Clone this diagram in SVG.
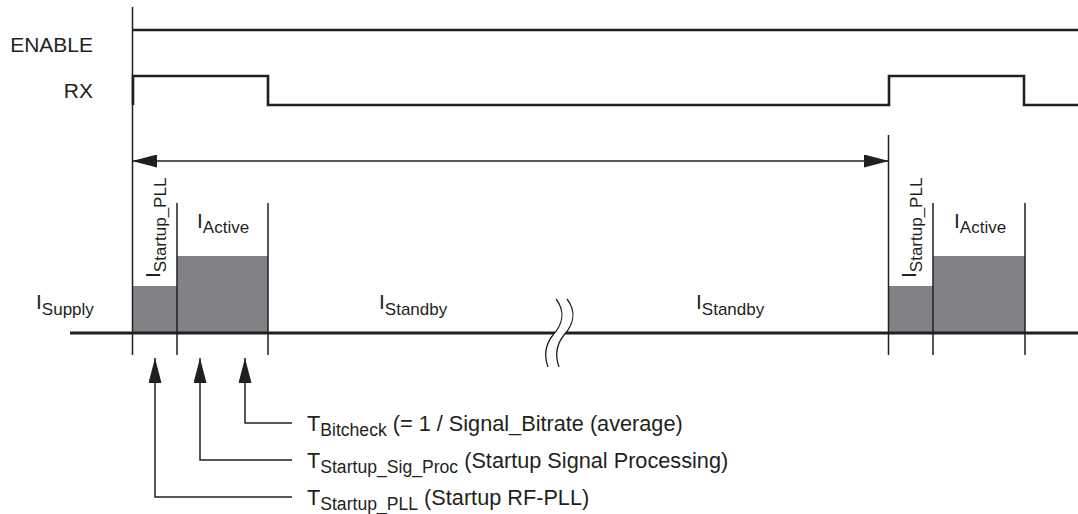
<svg xmlns="http://www.w3.org/2000/svg" width="1078" height="514" viewBox="0 0 1078 514">
  <defs>
    <style>
      text { font-family: "Liberation Sans", Arial, sans-serif; font-size: 21px; fill: #231f20; }
      .sub { font-size: 17px; }
      .tl { font-size: 21.7px; }
      .tl .sub { font-size: 17.6px; }
      .sig { fill: none; stroke: #231f20; stroke-width: 2.6; }
      .thin { fill: none; stroke: #231f20; stroke-width: 1.5; }
      .block { fill: #808285; stroke: none; }
      .base { fill: none; stroke: #231f20; stroke-width: 3; }
      .wave { fill: none; stroke: #231f20; stroke-width: 1.3; }
    </style>
    <marker id="ah" viewBox="0 0 25 13" refX="25" refY="6.5" markerWidth="25" markerHeight="13" markerUnits="userSpaceOnUse" orient="auto-start-reverse">
      <path d="M0,0 L25,6.5 L0,13 z" fill="#231f20"/>
    </marker>
  </defs>
  <rect width="1078" height="514" fill="#ffffff"/>

  <g id="labels-signals">
    <text x="93" y="52" text-anchor="end">ENABLE</text>
    <text x="93" y="98" text-anchor="end">RX</text>
  </g>

  <g id="enable-signal">
    <path class="sig" d="M132,30 H1078"/>
  </g>
  <g id="rx-signal">
    <path class="sig" d="M133,105 V76 H268 V105 H889 V76 H1024 V105 H1078"/>
  </g>

  <g id="current-blocks">
    <rect class="block" x="132" y="286" width="46" height="47"/>
    <rect class="block" x="177" y="256" width="91" height="77"/>
    <rect class="block" x="888" y="286" width="46" height="47"/>
    <rect class="block" x="933" y="256" width="92" height="77"/>
  </g>

  <g id="baseline">
    <path class="base" d="M70,333 H1078"/>
    <path d="M556,299 C566,312 562,325 553,335 C545,345 544,356 548,367 L559,367 C555,356 556,345 564,335 C573,325 577,312 567,299 Z" fill="#ffffff" stroke="none"/>
    <path class="wave" d="M556,299 C566,312 562,325 553,335 C545,345 544,356 548,367"/>
    <path class="wave" d="M567,299 C577,312 573,325 564,335 C556,345 555,356 559,367"/>
  </g>

  <g id="time-markers">
    <path class="thin" d="M132.5,7 V355"/>
    <path class="thin" d="M177,203 V355"/>
    <path class="thin" d="M268,203 V355"/>
    <path class="thin" d="M888.5,135 V355"/>
    <path class="thin" d="M933,203 V355"/>
    <path class="thin" d="M1025,203 V355"/>
  </g>

  <g id="current-labels">
    <text x="36" y="309">I<tspan class="sub" dy="6">Supply</tspan></text>
    <text x="379" y="309">I<tspan class="sub" dy="6">Standby</tspan></text>
    <text x="696" y="309">I<tspan class="sub" dy="6">Standby</tspan></text>
    <text x="197" y="228">I<tspan class="sub" dy="5">Active</tspan></text>
    <text x="954" y="228">I<tspan class="sub" dy="5">Active</tspan></text>
    <text transform="translate(160,278) rotate(-90)">I<tspan class="sub" dy="6">Startup_PLL</tspan></text>
    <text transform="translate(916,278) rotate(-90)">I<tspan class="sub" dy="6">Startup_PLL</tspan></text>
  </g>

  <g id="connectors">
    <path class="thin" d="M132,161 H889" marker-start="url(#ah)" marker-end="url(#ah)"/>
    <path class="thin" d="M292,423 H245 V358" marker-end="url(#ah)"/>
    <path class="thin" d="M292,460 H200 V358" marker-end="url(#ah)"/>
    <path class="thin" d="M292,497 H155 V358" marker-end="url(#ah)"/>
  </g>

  <g id="time-labels">
    <text class="tl" x="307" y="431">T<tspan class="sub" dy="5">Bitcheck</tspan><tspan dy="-5"> (= 1 / Signal_Bitrate (average)</tspan></text>
    <text class="tl" x="307" y="468">T<tspan class="sub" dy="5">Startup_Sig_Proc</tspan><tspan dy="-5"> (Startup Signal Processing)</tspan></text>
    <text class="tl" x="307" y="505">T<tspan class="sub" dy="5">Startup_PLL</tspan><tspan dy="-5"> (Startup RF-PLL)</tspan></text>
  </g>
</svg>
